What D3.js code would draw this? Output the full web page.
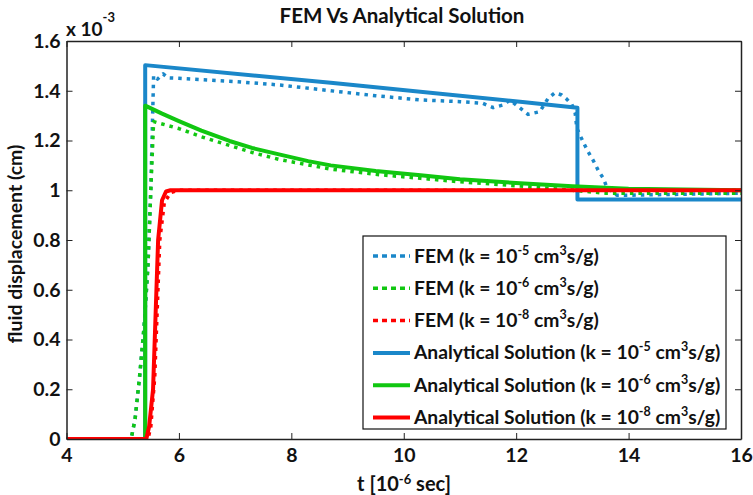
<!DOCTYPE html>
<html>
<head>
<meta charset="utf-8">
<script src="https://cdn.jsdelivr.net/npm/d3@7"></script>
<style>
  body { margin: 0; background: #fff; }
  svg text { font-family: Lato, "Open Sans", sans-serif; font-weight: bold; fill: #111; }
</style>
</head>
<body>
<div id="chart"></div>
<script>
// values in units of 1e-3 cm, time in 1e-6 sec
const femBlueT = [4, 5.15, 5.22, 5.3, 5.38, 5.45, 5.5, 5.55, 5.62, 5.72, 5.8, 6.0, 7.0, 7.8, 8.7, 9.5, 10.3, 11.0, 11.4, 11.59, 11.77, 11.89, 12.1, 12.21, 12.42, 12.57, 12.69, 12.81, 12.9, 12.99, 13.05, 13.08, 13.2, 13.28, 13.37, 13.46, 13.55, 13.61, 13.79, 13.97, 16]
const femBlueY = [0, 0, 0.08, 0.25, 0.45, 0.7, 1.0, 1.462, 1.447, 1.468, 1.452, 1.45, 1.437, 1.423, 1.40, 1.38, 1.363, 1.356, 1.35, 1.332, 1.343, 1.363, 1.325, 1.305, 1.316, 1.37, 1.392, 1.383, 1.366, 1.345, 1.31, 1.249, 1.19, 1.155, 1.12, 1.08, 1.048, 1.014, 0.98, 0.98, 0.988]

const femGreenT = [4, 5.15, 5.22, 5.3, 5.38, 5.45, 5.5, 5.55, 6.0, 6.4, 6.9, 7.3, 7.8, 8.7, 9.5, 10.3, 11.0, 12.07, 13.0, 13.6, 16]
const femGreenY = [0, 0, 0.08, 0.25, 0.45, 0.7, 1.0, 1.276, 1.248, 1.215, 1.18, 1.152, 1.123, 1.085, 1.064, 1.048, 1.034, 1.017, 1.0, 0.988, 0.988]

const femRedT = [4, 5.45, 5.5, 5.57, 5.66, 5.74, 5.85, 6.0, 16]
const femRedY = [0, 0, 0.05, 0.25, 0.8, 0.95, 0.99, 1.0, 1.0]

const anaBlueT = [4, 5.4, 5.4, 8.7, 12.07, 13.09, 13.09, 16]
const anaBlueY = [0, 0, 1.503, 1.432, 1.356, 1.332, 0.963, 0.963]

const anaGreenT = [4, 5.4, 5.4, 5.7, 6.0, 6.4, 6.9, 7.3, 7.8, 8.3, 8.7, 9.5, 10.3, 11.0, 12.07, 13.0, 14.0, 16]
const anaGreenY = [0, 0, 1.34, 1.308, 1.278, 1.24, 1.198, 1.17, 1.143, 1.117, 1.10, 1.077, 1.060, 1.044, 1.028, 1.016, 1.006, 1.0]

const anaRedT = [4, 5.42, 5.47, 5.54, 5.63, 5.7, 5.77, 5.85, 16]
const anaRedY = [0, 0, 0.05, 0.2, 0.8, 0.96, 0.995, 1.0, 1.0]

const xTicks = [4, 6, 8, 10, 12, 14, 16]
const yTicks = [0, 0.2, 0.4, 0.6, 0.8, 1, 1.2, 1.4, 1.6]

const seriesExps = ["-5", "-6", "-8", "-5", "-6", "-8"]
const seriesColors = ["#1a87c9", "#11c711", "#ff0000", "#1a87c9", "#11c711", "#ff0000"]

const width = 753, height = 495
const margin = {left: 66.5, right: 12, top: 41, bottom: 56}

const svg = d3.select("#chart").append("svg")
    .attr("width", width)
    .attr("height", height)

const x = d3.scaleLinear().domain([4, 16]).range([margin.left, width - margin.right])
const y = d3.scaleLinear().domain([0, 1.6]).range([height - margin.bottom, margin.top])

const zip = (ts, ys) => ts.map((t, i) => [t, ys[i]])
const series = [
    {pts: zip(femBlueT, femBlueY), dotted: true},
    {pts: zip(femGreenT, femGreenY), dotted: true},
    {pts: zip(femRedT, femRedY), dotted: true},
    {pts: zip(anaBlueT, anaBlueY), dotted: false},
    {pts: zip(anaGreenT, anaGreenY), dotted: false},
    {pts: zip(anaRedT, anaRedY), dotted: false}
]

svg.append("defs").append("clipPath").attr("id", "clip")
    .append("rect")
    .attr("x", x(4)).attr("y", y(1.6))
    .attr("width", x(16) - x(4)).attr("height", y(0) - y(1.6))

const line = d3.line().x(d => x(d[0])).y(d => y(d[1]))

svg.append("g").attr("clip-path", "url(#clip)")
    .selectAll("path")
    .data(series)
    .join("path")
    .attr("d", d => line(d.pts))
    .attr("fill", "none")
    .attr("stroke", (d, i) => seriesColors[i])
    .attr("stroke-width", d => d.dotted ? 3.5 : 4)
    .attr("stroke-dasharray", d => d.dotted ? "3.5,5" : null)
    .attr("stroke-linejoin", "round")

// axes with inward ticks, box around
const tickLen = 6
const axB = svg.append("g").attr("transform", `translate(0,${y(0)})`)
    .call(d3.axisBottom(x).tickValues(xTicks).tickSizeInner(-tickLen).tickSizeOuter(0).tickPadding(9))
const axL = svg.append("g").attr("transform", `translate(${x(4)},0)`)
    .call(d3.axisLeft(y).tickValues(yTicks).tickFormat(d3.format("~g")).tickSizeInner(-tickLen).tickSizeOuter(0).tickPadding(6))
const axT = svg.append("g").attr("transform", `translate(0,${y(1.6)})`)
    .call(d3.axisTop(x).tickValues(xTicks).tickSizeInner(-tickLen).tickSizeOuter(0).tickFormat(""))
const axR = svg.append("g").attr("transform", `translate(${x(16)},0)`)
    .call(d3.axisRight(y).tickValues(yTicks).tickSizeInner(-tickLen).tickSizeOuter(0).tickFormat(""))

;[axB, axL, axT, axR].forEach(a => {
    a.select(".domain").attr("stroke", "#222").attr("stroke-width", 1.5)
    a.selectAll(".tick line").attr("stroke", "#222")
    a.selectAll("text").attr("font-size", 19.5).attr("font-family", "Lato").attr("font-weight", "bold").attr("fill", "#111")
})
axB.selectAll(".tick text").attr("dy", "0.71em")

// exponent
const ex = svg.append("text").attr("x", 66).attr("y", 36).attr("font-size", 19)
ex.append("tspan").text("x 10")
ex.append("tspan").attr("dy", -14).attr("font-size", 13).text("-3")

svg.append("text")
    .attr("x", 402).attr("y", 23)
    .attr("text-anchor", "middle")
    .attr("font-size", 20.5)
    .text("FEM Vs Analytical Solution")

const xl = svg.append("text")
    .attr("x", 404).attr("y", 491)
    .attr("text-anchor", "middle")
    .attr("font-size", 20)
xl.append("tspan").text("t [10")
xl.append("tspan").attr("dy", -7).attr("font-size", 13).text("-6")
xl.append("tspan").attr("dy", 7).text(" sec]")

svg.append("text")
    .attr("transform", `translate(22,${(y(0) + y(1.6)) / 2 + 4}) rotate(-90)`)
    .attr("text-anchor", "middle")
    .attr("font-size", 19.5)
    .text("fluid displacement (cm)")

// legend
const legend = svg.append("g").attr("transform", "translate(363,236)")
legend.append("rect")
    .attr("width", 363).attr("height", 193)
    .attr("fill", "#fff").attr("stroke", "#111").attr("stroke-width", 1.2)

const rows = legend.selectAll("g.row")
    .data(series)
    .join("g")
    .attr("class", "row")
    .attr("transform", (d, i) => `translate(0,${20 + i * 32.3})`)

rows.append("line")
    .attr("x1", 10).attr("x2", 47)
    .attr("stroke", (d, i) => seriesColors[i])
    .attr("stroke-width", d => d.dotted ? 3.5 : 4)
    .attr("stroke-dasharray", d => d.dotted ? "5,4" : null)

const lt = rows.append("text").attr("x", 51).attr("y", 6.5).attr("font-size", 19.3)
lt.append("tspan").text(d => d.dotted ? "FEM (k = 10" : "Analytical Solution (k = 10")
lt.append("tspan").attr("dy", -8).attr("font-size", 12.5).text((d, i) => seriesExps[i])
lt.append("tspan").attr("dy", 8).text(" cm")
lt.append("tspan").attr("dy", -8).attr("font-size", 12.5).text("3")
lt.append("tspan").attr("dy", 8).text("s/g)")
</script>
</body>
</html>
